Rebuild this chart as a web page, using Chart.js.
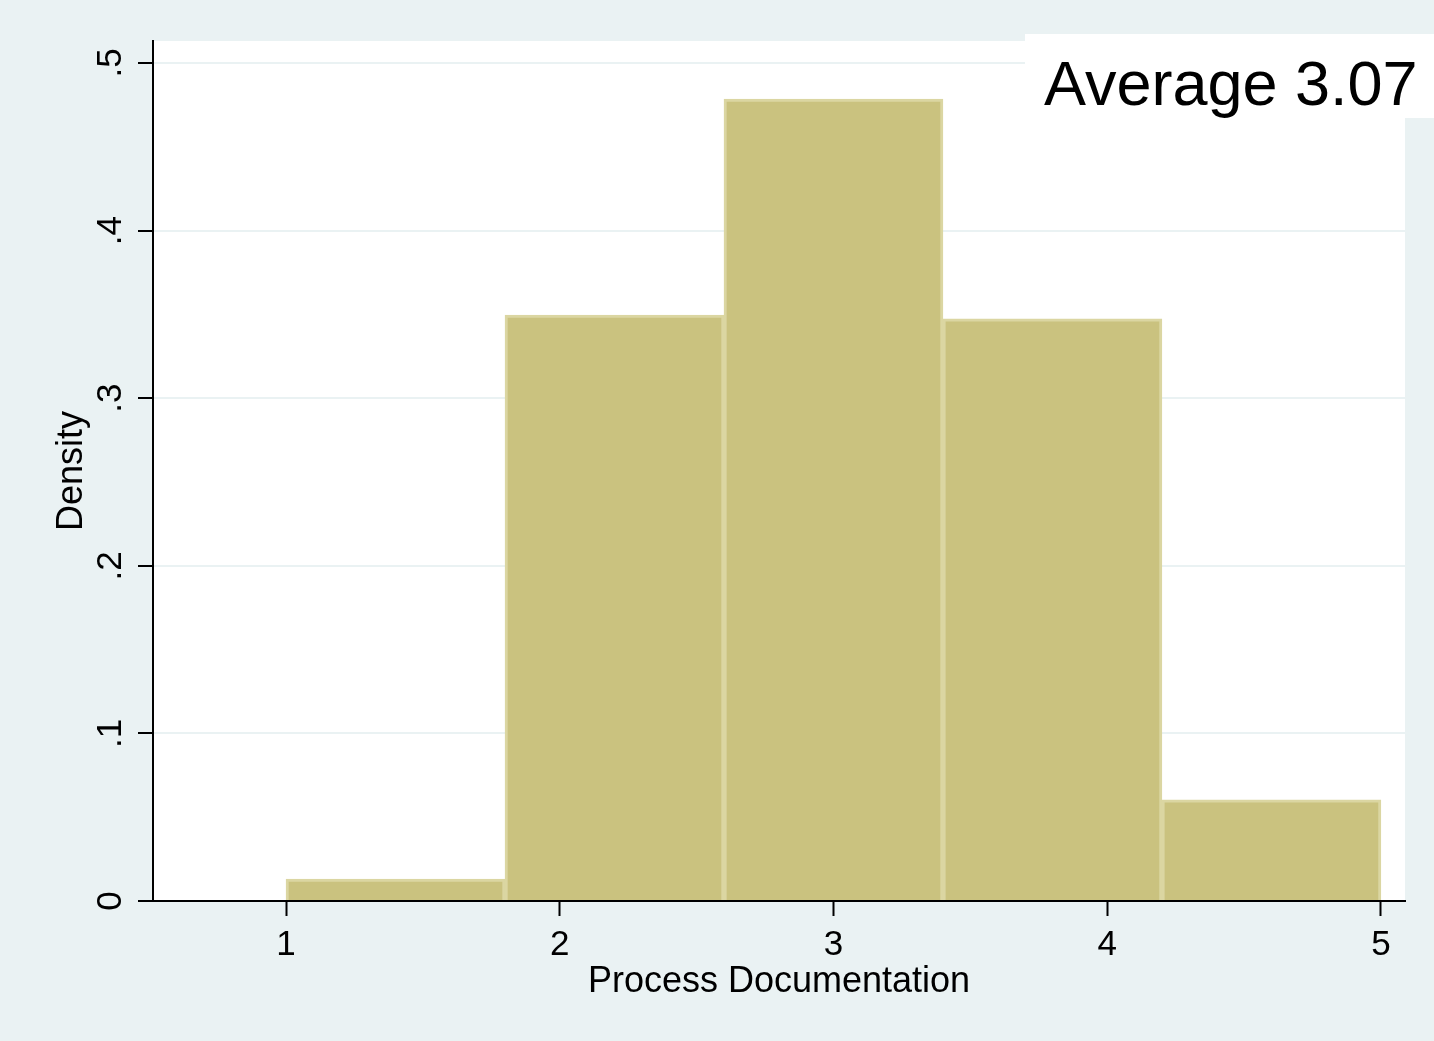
<!DOCTYPE html>
<html>
<head>
<meta charset="utf-8">
<title>Process Documentation</title>
<script src="https://cdn.jsdelivr.net/npm/chart.js@4.4.1/dist/chart.umd.min.js"></script>
<style>
  html, body { margin: 0; padding: 0; background: #eaf2f3; }
  #wrap { width: 1434px; height: 1041px; }
</style>
</head>
<body>
<div id="wrap"><canvas id="hist" width="1434" height="1041"></canvas></div>
<script>
// Histogram bins (left/right edges) and density in each bin
const binEdges = [1, 1.8, 2.6, 3.4, 4.2, 5];
const densities = [0.0131, 0.3496, 0.4785, 0.3473, 0.0603];
const xTicks = [1, 2, 3, 4, 5];
const yTicks = [0, 0.1, 0.2, 0.3, 0.4, 0.5];
const averageLabel = 'Average 3.07';

const FONT = '"Liberation Sans", Arial, Helvetica, sans-serif';
const BG = '#eaf2f3';

const points = densities.map((d, i) => ({ x: (binEdges[i] + binEdges[i + 1]) / 2, y: d }));

const frame = {
  id: 'frame',
  beforeDraw(chart) {
    const { ctx, chartArea: a } = chart;
    ctx.save();
    ctx.fillStyle = BG;
    ctx.fillRect(0, 0, chart.width, chart.height);
    ctx.fillStyle = '#ffffff';
    ctx.fillRect(a.left, a.top, a.right - a.left, a.bottom - a.top);
    ctx.restore();
  },
  afterDraw(chart) {
    const { ctx } = chart;
    ctx.save();
    ctx.fillStyle = '#ffffff';
    ctx.fillRect(1025, 34, chart.width - 1025, 84);
    ctx.fillStyle = '#000000';
    ctx.font = '63px ' + FONT;
    ctx.textBaseline = 'alphabetic';
    ctx.textAlign = 'left';
    ctx.fillText(averageLabel, 1044, 105);
    ctx.restore();
  }
};

new Chart(document.getElementById('hist'), {
  type: 'bar',
  data: {
    datasets: [{
      data: points,
      backgroundColor: '#cac27f',
      borderColor: '#dbd6a2',
      borderWidth: 3,
      barPercentage: 1,
      categoryPercentage: 1
    }]
  },
  options: {
    responsive: false,
    animation: false,
    events: [],
    layout: { padding: { top: 41, right: 29, left: 0, bottom: 0 } },
    plugins: { legend: { display: false }, tooltip: { enabled: false } },
    scales: {
      x: {
        type: 'linear',
        offset: false,
        min: 0.514,
        max: 5.088,
        afterFit(s) { s.height = 140; },
        afterBuildTicks(s) { s.ticks = xTicks.map(v => ({ value: v })); },
        grid: { offset: false, drawOnChartArea: false, drawTicks: true, tickLength: 15, tickColor: '#000', tickWidth: 2 },
        border: { display: true, color: '#000', width: 2 },
        ticks: { color: '#000', font: { family: FONT, size: 35 }, padding: 8, maxRotation: 0, minRotation: 0,
                 callback: v => String(v) },
        title: { display: true, text: 'Process Documentation', color: '#000',
                 font: { family: FONT, size: 36 }, padding: { top: 0, bottom: 37 } }
      },
      y: {
        type: 'linear',
        min: 0,
        max: 0.5131,
        afterFit(s) { s.width = 153; },
        afterBuildTicks(s) { s.ticks = yTicks.map(v => ({ value: v })); },
        grid: { color: BG, lineWidth: 2, drawTicks: true, tickLength: 15, tickColor: '#000', tickWidth: 2 },
        border: { display: true, color: '#000', width: 2 },
        ticks: { color: '#000', font: { family: FONT, size: 35 }, padding: 12, minRotation: 90, maxRotation: 90,
                 crossAlign: 'center',
                 callback: v => (v === 0 ? '0' : String(Math.round(v * 10) / 10).replace(/^0/, '')) },
        title: { display: true, text: 'Density', color: '#000',
                 font: { family: FONT, size: 36 }, padding: { top: 50, bottom: 0 } }
      }
    }
  },
  plugins: [frame]
});
</script>
</body>
</html>
